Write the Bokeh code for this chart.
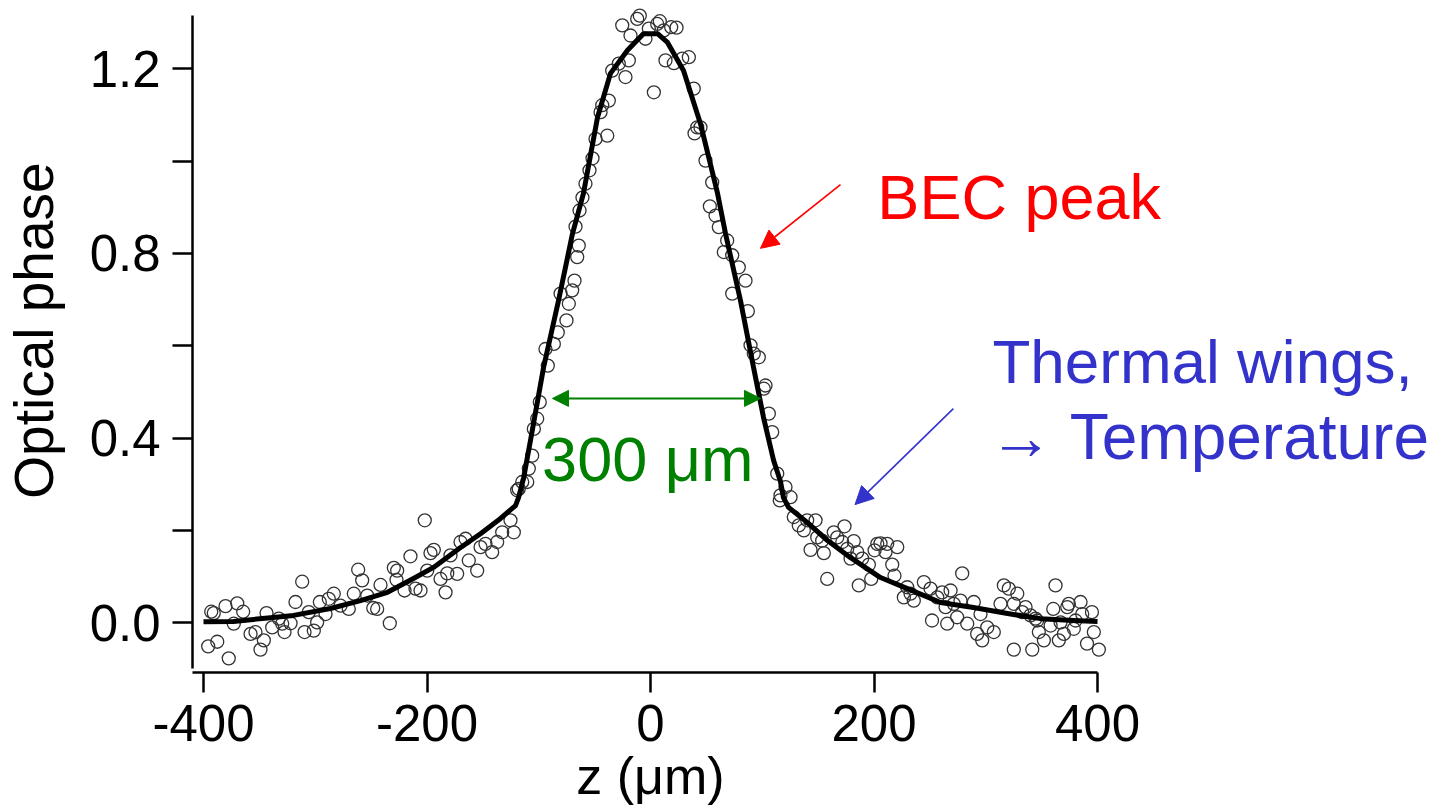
from bokeh.plotting import figure
from bokeh.models import (FixedTicker, PrintfTickFormatter, Label, Arrow, NormalHead)
from bokeh.embed import file_html
from bokeh.resources import INLINE

# ---------------- data ----------------
z_data = [
    -395.8, -387.7, -377.4, -393.1, -390.8, -380.3, -369.8, -364.5, -372.9, -357.9,
    -353.5, -349.0, -346.0, -343.6, -338.5, -332.6, -329.6, -327.5, -322.1, -317.7,
    -311.7, -309.6, -305.8, -301.3, -298.3, -295.9, -290.8, -287.9, -283.4, -277.4,
    -270.0, -265.5, -261.6, -258.0, -253.5, -248.1, -244.6, -241.6, -233.3, -229.7,
    -226.7, -227.3, -220.1, -214.8, -210.3, -205.8, -202.0, -196.9, -193.9, -199.8,
    -187.9, -183.4, -181.9, -179.0, -173.0, -170.0, -165.5, -162.6, -155.1, -152.1,
    -147.7, -141.7, -137.2, -132.7, -125.3, -122.3, -119.3, -110.3,
    -117.9, -114.8, -108.9, -105.9, -104.4, -101.4, -99.1, -91.9, -94.0, -86.5,
    -83.0, -75.2, -73.1, -80.5, -70.1, -68.0, -65.6, -64.2,
    -67.1, -63.5, -60.9, -58.2, -54.6, -51.9,
    -43.2, -44.7, -37.3, -38.7, -34.3, -28.4, -22.4, -19.4, -25.3, -17.9,
    -11.9, -9.6, -4.5, -1.5, 6.0, 8.3, 11.9, 18.5, 23.3, 3.0,
    13.4, 20.9, 28.4, 34.3, 38.7, 41.8, 44.7, 39.4, -49.2,
    49.2, 55.2, 53.1, 58.2, 61.1, 68.6, 65.6, 73.1, 79.0, 85.0,
    73.1, 87.1, 89.5, 96.9, 92.4, 102.9, 101.4, 105.9, 108.9, 113.4,
    120.8, 116.3, 125.3,
    115.7, 128.2, 132.7, 137.2, 140.2, 147.7, 149.2, 153.6, 143.2, 155.1,
    158.1, 164.0, 167.1, 173.6, 171.6, 181.9, 176.0, 179.0, 185.0, 189.4,
    195.4, 186.4, 197.5, 202.9, 205.8, 211.8, 220.8, 200.5, 210.3, 216.3,
    218.3, 229.7, 226.7, 232.7, 235.6, 244.6, 250.6, 256.6, 261.0, 268.5,
    264.0, 271.4, 278.9, 277.4, 289.3, 251.9, 265.5, 274.4, 283.4, 292.3,
    296.8, 301.3, 307.2, 295.3, 313.2, 316.2, 320.6, 328.2, 325.1, 335.6,
    332.6, 340.0, 344.5, 347.5, 352.0, 325.1, 341.6, 358.0, 362.4, 360.4,
    365.4, 369.9, 374.3, 378.8, 372.9, 384.8, 386.3, 395.0, 390.6, 396.7,
    401.2, 380.3, 366.9, 346.0,
]
phase_data = [
    -0.051, -0.041, -0.077, 0.024, 0.021, 0.036, 0.042, 0.024, -0.002, -0.024,
    -0.020, -0.058, -0.038, 0.021, -0.010, 0.009, -0.002, -0.020, -0.001, 0.045,
    0.089, -0.020, 0.023, -0.017, 0.001, 0.045, 0.019, 0.052, 0.063, 0.037,
    0.030, 0.063, 0.115, 0.092, 0.059, 0.032, 0.030, 0.082, -0.001, 0.119,
    0.113, 0.093, 0.070, 0.144, 0.074, 0.070, 0.222, 0.151, 0.158, 0.113,
    0.095, 0.066, 0.107, 0.146, 0.106, 0.175, 0.182, 0.135, 0.113, 0.164,
    0.171, 0.153, 0.175, 0.196, 0.222, 0.196, 0.287, 0.305,
    0.290, 0.305, 0.334, 0.362, 0.420, 0.442, 0.478, 0.557, 0.593, 0.604,
    0.629, 0.655, 0.691, 0.713, 0.720, 0.741, 0.792, 0.817,
    0.858, 0.893, 0.921, 0.951, 0.980, 1.006,
    1.121, 1.106, 1.131, 1.055, 1.196, 1.211, 1.182, 1.218, 1.294, 1.272,
    1.308, 1.315, 1.265, 1.287, 1.297, 1.303, 1.283, 1.290, 1.289, 1.149,
    1.218, 1.212, 1.222, 1.225, 1.157, 1.073, 1.073, 1.060, 1.048,
    1.001, 0.954, 0.902, 0.882, 0.857, 0.828, 0.803, 0.796, 0.770, 0.741,
    0.713, 0.675, 0.601, 0.575, 0.583, 0.514, 0.507, 0.453, 0.413, 0.323,
    0.294, 0.276, 0.272,
    0.265, 0.229, 0.211, 0.200, 0.222, 0.222, 0.185, 0.178, 0.158, 0.151,
    0.095, 0.196, 0.185, 0.209, 0.175, 0.177, 0.160, 0.139, 0.153, 0.139,
    0.126, 0.081, 0.095, 0.171, 0.172, 0.171, 0.164, 0.157, 0.153, 0.126,
    0.102, 0.077, 0.055, 0.063, 0.048, 0.088, 0.074, 0.055, 0.066, 0.070,
    0.034, 0.041, 0.107, 0.048, 0.045, 0.005, -0.002, 0.012, -0.002, -0.024,
    -0.038, -0.010, -0.020, 0.019, 0.041, 0.081, 0.074, 0.063, 0.041, 0.034,
    0.023, 0.016, 0.009, -0.020, -0.038, -0.058, -0.058, -0.006, 0.081, 0.030,
    -0.038, -0.024, 0.041, -0.013, 0.034, 0.045, 0.019, 0.023, -0.045, -0.020,
    -0.058, 0.005, 0.001, 0.005,
]

z_fit = [
    -400.0, -373.2, -340.1, -319.5, -286.4, -259.5, -235.4, -212.1, -194.2, -170.0,
    -152.1, -134.2, -120.8, -118.1, -113.6, -107.4, -95.7, -82.3, -69.8, -60.0,
    -47.4, -35.8, -20.6, -6.3, 6.3, 15.2, 29.5, 44.7, 60.0, 67.1,
    80.5, 92.2, 101.1, 110.1, 116.3, 119.0, 123.5, 140.5, 158.4, 179.0,
    205.8, 229.9, 259.5, 289.0, 319.5, 349.0, 378.5, 400.0,
]
phase_fit = [
    0.002, 0.003, 0.011, 0.016, 0.031, 0.048, 0.066, 0.096, 0.120, 0.163,
    0.193, 0.226, 0.254, 0.271, 0.313, 0.395, 0.553, 0.698, 0.843, 0.930,
    1.095, 1.190, 1.240, 1.276, 1.276, 1.257, 1.196, 1.081, 0.930, 0.843,
    0.698, 0.553, 0.445, 0.352, 0.306, 0.271, 0.250, 0.217, 0.178, 0.141,
    0.098, 0.074, 0.044, 0.033, 0.020, 0.009, 0.005, 0.003,
]

x_ticks = [-400, -200, 0, 200, 400]
y_ticks = [0.0, 0.4, 0.8, 1.2]
y_minor = [0.2, 0.6, 1.0]

FONT = "Liberation Sans"

p = figure(width=1441, height=811, output_backend="svg", toolbar_location=None,
           x_range=(-581.65, 707.8), y_range=(-0.4087, 1.3478),
           min_border_left=0, min_border_right=0,
           min_border_top=0, min_border_bottom=0)
p.background_fill_color = "white"
p.border_fill_color = "white"
p.outline_line_color = None
p.xgrid.visible = False
p.ygrid.visible = False

# data points and fit
p.scatter(z_data, phase_data, marker="circle", size=13, fill_color=None,
          line_color="#333333", line_width=1.3)
p.line(z_fit, phase_fit, line_color="black", line_width=5, line_join="round")

# axes (drawn at fixed positions inside the canvas)
for ax in (p.xaxis[0], p.yaxis[0]):
    ax.axis_line_color = "black"
    ax.axis_line_width = 2.5
    ax.major_tick_line_color = "black"
    ax.major_tick_line_width = 2.5
    ax.major_tick_in = 0
    ax.major_tick_out = 20
    ax.major_label_text_font = FONT
    ax.major_label_text_font_size = "51px"
    ax.major_label_text_color = "black"

p.xaxis.fixed_location = -0.1076
p.xaxis.ticker = FixedTicker(ticks=x_ticks)
p.xaxis.formatter = PrintfTickFormatter(format="%d")
p.xaxis.minor_tick_line_color = None
p.xaxis.major_label_standoff = 13
p.xaxis.bounds = (-409.8, 400)

p.yaxis.fixed_location = -409.8
p.yaxis.ticker = FixedTicker(ticks=y_ticks, minor_ticks=y_minor)
p.yaxis.formatter = PrintfTickFormatter(format="%.1f")
p.yaxis.minor_tick_in = 0
p.yaxis.minor_tick_out = 20
p.yaxis.minor_tick_line_color = "black"
p.yaxis.minor_tick_line_width = 2.5
p.yaxis.major_label_standoff = 12
p.yaxis.bounds = (-0.099, 1.315)

# axis titles
p.add_layout(Label(x=0, y=-0.331, text="z (μm)", text_font=FONT,
                   text_font_size="52px", text_color="black",
                   text_align="center", text_baseline="alphabetic"))
p.add_layout(Label(x=-551.3, y=0.633, text="Optical phase", text_font=FONT,
                   text_font_size="55px", text_color="black", angle=1.5708,
                   text_align="center", text_baseline="alphabetic"))

# annotations
p.add_layout(Arrow(end=NormalHead(size=18, fill_color="red", line_color="red"),
                   x_start=170.0, y_start=0.949, x_end=98.4, y_end=0.811,
                   line_color="red", line_width=1.6))
p.add_layout(Label(x=203.0, y=0.923, text="BEC peak", text_font=FONT,
                   text_font_size="63px", text_color="#ff0000",
                   text_baseline="alphabetic"))

p.add_layout(Arrow(end=NormalHead(size=18, fill_color="#3333cc", line_color="#3333cc"),
                   x_start=271.0, y_start=0.464, x_end=183.0, y_end=0.256,
                   line_color="#3333cc", line_width=1.6))
p.add_layout(Label(x=306.0, y=0.567, text="Thermal wings,", text_font=FONT,
                   text_font_size="62px", text_color="#3333cc",
                   text_baseline="alphabetic"))
p.add_layout(Label(x=303.0, y=0.402, text="→ Temperature", text_font=FONT,
                   text_font_size="64px", text_color="#3333cc",
                   text_baseline="alphabetic"))

p.add_layout(Arrow(start=NormalHead(size=16, fill_color="green", line_color="green"),
                   end=NormalHead(size=16, fill_color="green", line_color="green"),
                   x_start=-87.7, y_start=0.486, x_end=98.4, y_end=0.486,
                   line_color="green", line_width=2))
p.add_layout(Label(x=-97.0, y=0.354, text="300 μm", text_font=FONT,
                   text_font_size="63px", text_color="#008000",
                   text_baseline="alphabetic"))

open("out.html", "w").write(file_html(p, INLINE))
